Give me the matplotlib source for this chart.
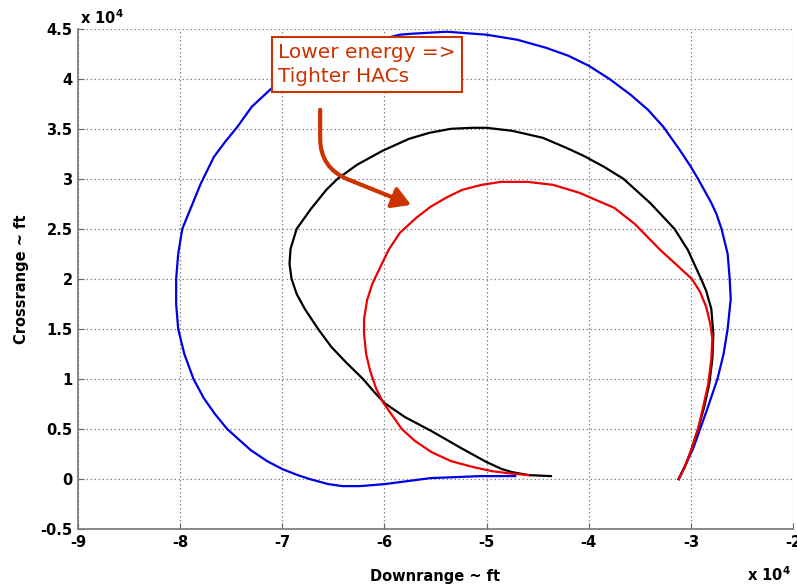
import matplotlib
matplotlib.use("Agg")
import matplotlib.pyplot as plt
from matplotlib.patches import FancyArrowPatch

plt.rcParams["font.family"] = ["DejaVu Sans"]

# footprint boundaries, units of 1e4 ft (downrange, crossrange)
blue_x = [-3.12, -3.05, -2.98, -2.91, -2.84, -2.74, -2.68, -2.64, -2.61, -2.62,
          -2.64, -2.70, -2.75, -2.80, -2.93, -3.00, -3.11, -3.27, -3.42, -3.59,
          -3.80, -4.00, -4.20, -4.42, -4.70, -5.00, -5.39, -5.73, -5.85, -6.05,
          -6.30, -6.55, -6.80, -7.10, -7.30, -7.44, -7.56, -7.67, -7.80, -7.90,
          -7.98, -8.02, -8.04, -8.04, -8.02, -7.96, -7.87, -7.77, -7.66, -7.54,
          -7.42, -7.31, -7.15, -7.00, -6.85, -6.73, -6.55, -6.41, -6.24, -6.00,
          -5.85, -5.55, -5.30, -5.06, -4.72]
blue_y = [0.00, 0.15, 0.30, 0.50, 0.70, 1.00, 1.25, 1.50, 1.80, 2.00,
          2.25, 2.50, 2.65, 2.76, 3.00, 3.12, 3.29, 3.52, 3.69, 3.84,
          4.00, 4.13, 4.23, 4.31, 4.39, 4.44, 4.47, 4.45, 4.44, 4.39,
          4.31, 4.20, 4.08, 3.91, 3.72, 3.52, 3.37, 3.22, 2.95, 2.70,
          2.50, 2.25, 2.00, 1.75, 1.50, 1.25, 1.00, 0.81, 0.65, 0.50,
          0.39, 0.29, 0.18, 0.10, 0.04, 0.00, -0.05, -0.07, -0.07, -0.05,
          -0.03, 0.01, 0.02, 0.03, 0.03]

black_x = [-3.12, -3.06, -3.00, -2.93, -2.87, -2.82, -2.79, -2.78, -2.80, -2.85,
           -2.90, -3.03, -3.16, -3.40, -3.66, -3.85, -4.05, -4.22, -4.45, -4.75,
           -5.00, -5.14, -5.35, -5.56, -5.76, -6.02, -6.27, -6.46, -6.57, -6.72,
           -6.86, -6.92, -6.93, -6.91, -6.86, -6.78, -6.65, -6.52, -6.38, -6.21,
           -6.10, -6.00, -5.80, -5.54, -5.25, -5.00, -4.85, -4.75, -4.59, -4.37]
black_y = [0.00, 0.12, 0.28, 0.50, 0.72, 0.95, 1.20, 1.45, 1.70, 1.88,
           2.00, 2.29, 2.50, 2.76, 3.00, 3.12, 3.23, 3.31, 3.41, 3.48,
           3.51, 3.51, 3.50, 3.46, 3.40, 3.28, 3.14, 3.00, 2.89, 2.70,
           2.50, 2.30, 2.15, 2.00, 1.85, 1.70, 1.50, 1.32, 1.17, 1.00,
           0.87, 0.76, 0.62, 0.48, 0.31, 0.17, 0.10, 0.07, 0.04, 0.03]

red_x = [-3.12, -3.06, -3.00, -2.93, -2.88, -2.83, -2.80, -2.79, -2.81, -2.85,
         -2.91, -2.99, -3.15, -3.30, -3.55, -3.75, -4.00, -4.09, -4.35, -4.60,
         -4.86, -5.05, -5.24, -5.40, -5.55, -5.69, -5.85, -5.96, -6.05, -6.12,
         -6.17, -6.20, -6.20, -6.18, -6.14, -6.08, -6.01, -5.92, -5.83, -5.70,
         -5.54, -5.35, -5.13, -4.95, -4.80, -4.59]
red_y = [0.00, 0.12, 0.28, 0.50, 0.72, 0.95, 1.20, 1.40, 1.55, 1.72,
         1.87, 2.00, 2.15, 2.29, 2.55, 2.71, 2.82, 2.86, 2.94, 2.97,
         2.97, 2.94, 2.89, 2.81, 2.72, 2.61, 2.46, 2.29, 2.10, 1.95,
         1.79, 1.60, 1.45, 1.25, 1.08, 0.90, 0.76, 0.63, 0.50, 0.38,
         0.27, 0.18, 0.12, 0.08, 0.06, 0.04]

x_ticks = [-9, -8, -7, -6, -5, -4, -3, -2]
y_ticks = [-0.5, 0, 0.5, 1, 1.5, 2, 2.5, 3, 3.5, 4, 4.5]
note = "Lower energy =>\nTighter HACs"
note_color = "#cc3300"

fig = plt.figure(figsize=(7.97, 5.86), dpi=100)
ax = fig.add_axes([0.098, 0.097, 0.897, 0.854])

ax.plot(blue_x, blue_y, color="#0000e6", lw=1.6)
ax.plot(black_x, black_y, color="black", lw=1.6)
ax.plot(red_x, red_y, color="#ee0000", lw=1.6)

ax.set_xlim(-9, -2)
ax.set_ylim(-0.5, 4.5)
ax.set_xticks(x_ticks)
ax.set_yticks(y_ticks)
ax.set_xticklabels([f"{t:g}" for t in x_ticks], fontweight="bold", fontsize=10.5)
ax.set_yticklabels([f"{t:g}" for t in y_ticks], fontweight="bold", fontsize=10.5)
ax.tick_params(direction="in", length=4, color="#666666", pad=4)

ax.grid(True, linestyle=(0, (1.2, 2)), color="#8a8a8a", lw=0.9)
ax.set_axisbelow(True)
for side in ("top", "right"):
    ax.spines[side].set_visible(False)
for side in ("left", "bottom"):
    ax.spines[side].set_color("#777777")
    ax.spines[side].set_linewidth(1.2)

ax.set_xlabel("Downrange ~ ft", fontweight="bold", fontsize=10.5, labelpad=14)
ax.set_ylabel("Crossrange ~ ft", fontweight="bold", fontsize=10.5, labelpad=8)

# exponent labels for both axes
fig.text(80 / 797, 1 - 24 / 586, r"x 10$^{\mathbf{4}}$", fontweight="bold",
         fontsize=10.5, ha="left", va="baseline")
fig.text(791 / 797, 1 - 581 / 586, r"x 10$^{\mathbf{4}}$", fontweight="bold",
         fontsize=10.5, ha="right", va="baseline")

ax.text(-7.04, 4.355, note, color=note_color, fontsize=14.5, va="top", ha="left",
        linespacing=1.32, zorder=5,
        bbox=dict(boxstyle="square,pad=0.3", fc="white", ec=note_color, lw=1.5))

arrow = FancyArrowPatch((-6.63, 3.69), (-5.74, 2.74),
                        connectionstyle="angle,angleA=-90,angleB=-22,rad=30",
                        arrowstyle="-|>,head_length=11,head_width=6.5",
                        shrinkA=0, shrinkB=0,
                        color=note_color, lw=3, zorder=5)
ax.add_patch(arrow)

fig.savefig("out.png", dpi=100)
